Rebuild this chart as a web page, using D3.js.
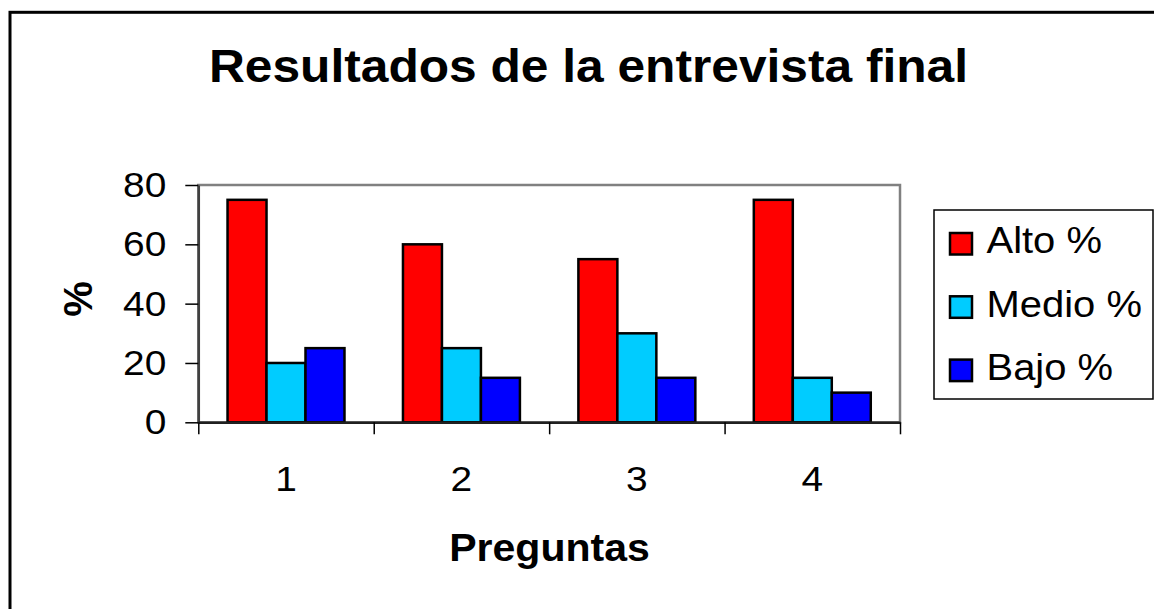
<!DOCTYPE html>
<html>
<head>
<meta charset="utf-8">
<script src="https://cdn.jsdelivr.net/npm/d3@7"></script>
<style>
  html, body { margin: 0; padding: 0; background: #fff; }
  svg { display: block; font-family: "Liberation Sans", Arial, sans-serif; }
</style>
</head>
<body>
<svg id="chart" width="1154" height="609"></svg>
<script>
// ---- data ----
const categories = ["1", "2", "3", "4"];
const seriesNames = ["Alto %", "Medio %", "Bajo %"];
const alto  = [75, 60, 55, 75];
const medio = [20, 25, 30, 15];
const bajo  = [25, 15, 15, 10];
const yTicks = [0, 20, 40, 60, 80];
const titleText = "Resultados de la entrevista final";
const xTitle = "Preguntas";
const yTitle = "%";
const colors = ["#FF0000", "#00CCFF", "#0000FF"];

const seriesValues = [alto, medio, bajo];
const SX = 1.08; // horizontal stretch of the original picture's text

const svg = d3.select("#chart");

// outer chart frame (extends beyond right/bottom edges)
svg.append("rect")
  .attr("x", 10).attr("y", 12.3)
  .attr("width", 1170).attr("height", 620)
  .attr("fill", "#fff").attr("stroke", "#000").attr("stroke-width", 3);

const plot = { left: 198.3, right: 900, top: 185, bottom: 422.3 };

const x = d3.scaleBand().domain(categories)
  .range([plot.left, plot.right]).paddingInner(1/3).paddingOuter(1/6);
const xs = d3.scaleBand().domain(d3.range(seriesNames.length))
  .range([0, x.bandwidth()]).padding(0);
const xEdges = d3.scaleLinear().domain([0, categories.length]).range([plot.left, plot.right]);
const y = d3.scaleLinear().domain([0, 80]).range([plot.bottom, plot.top]);

function stretchText(sel, sx) {
  sel.each(function() {
    const t = d3.select(this);
    const tx = +t.attr("x") || 0;
    const ty = +t.attr("y") || 0;
    t.attr("transform", `translate(${tx},${ty}) scale(${sx},1) translate(${-tx},${-ty})`);
  });
}

// plot area border (grey)
svg.append("rect")
  .attr("x", plot.left).attr("y", plot.top)
  .attr("width", plot.right - plot.left).attr("height", plot.bottom - plot.top)
  .attr("fill", "#fff").attr("stroke", "#808080").attr("stroke-width", 2.5);

// bars
const groups = svg.append("g").selectAll("g")
  .data(categories).join("g")
  .attr("transform", c => `translate(${x(c)},0)`);
groups.selectAll("rect")
  .data((c, i) => seriesValues.map((vals, s) => ({ s, v: vals[i] })))
  .join("rect")
  .attr("x", d => xs(d.s))
  .attr("y", d => y(d.v))
  .attr("width", xs.bandwidth())
  .attr("height", d => y(0) - y(d.v))
  .attr("fill", d => colors[d.s])
  .attr("stroke", "#000").attr("stroke-width", 2.5);

// y axis
const yAxis = svg.append("g")
  .attr("transform", `translate(${plot.left},0)`)
  .call(d3.axisLeft(y).tickValues(yTicks).tickSize(13).tickSizeOuter(0).tickPadding(19));
yAxis.select(".domain").attr("stroke", "#404040").attr("stroke-width", 2.5);
yAxis.selectAll(".tick line").attr("stroke", "#000").attr("stroke-width", 1.5);
yAxis.selectAll(".tick text")
  .attr("font-size", 36).attr("fill", "#000")
  .attr("font-family", "Liberation Sans, Arial, sans-serif")
  .call(stretchText, SX);

// x axis (ticks at category boundaries)
const xAxis = svg.append("g")
  .attr("transform", `translate(0,${plot.bottom})`)
  .call(d3.axisBottom(xEdges).tickValues(d3.range(categories.length + 1))
    .tickFormat("").tickSize(12).tickSizeOuter(0));
xAxis.select(".domain").attr("stroke", "#202020").attr("stroke-width", 2.5);
xAxis.selectAll(".tick line").attr("stroke", "#000").attr("stroke-width", 1.5);

// category labels
svg.append("g").selectAll("text")
  .data(categories).join("text")
  .attr("x", c => x(c) + x.bandwidth() / 2)
  .attr("y", 491)
  .attr("text-anchor", "middle")
  .attr("font-size", 36)
  .text(c => c)
  .call(stretchText, SX);

// title
svg.append("text")
  .attr("x", 588.5).attr("y", 82)
  .attr("text-anchor", "middle")
  .attr("font-size", 46).attr("font-weight", "bold")
  .text(titleText)
  .call(stretchText, SX);

// x axis title
svg.append("text")
  .attr("x", 549.5).attr("y", 561.5)
  .attr("text-anchor", "middle")
  .attr("font-size", 38).attr("font-weight", "bold")
  .text(xTitle)
  .call(stretchText, SX);

// y axis title
svg.append("text")
  .attr("transform", "translate(91.5,299) rotate(-90)")
  .attr("text-anchor", "middle")
  .attr("font-size", 40).attr("font-weight", "bold")
  .text(yTitle);

// legend
const legend = svg.append("g");
legend.append("rect")
  .attr("x", 934).attr("y", 210)
  .attr("width", 219).attr("height", 189)
  .attr("fill", "#fff").attr("stroke", "#000").attr("stroke-width", 1.5);
const items = legend.selectAll("g.item")
  .data(seriesNames).join("g").attr("class", "item");
items.append("rect")
  .attr("x", 950).attr("y", (d, i) => 233 + i * 63.3)
  .attr("width", 22).attr("height", 21.5)
  .attr("fill", (d, i) => colors[i])
  .attr("stroke", "#000").attr("stroke-width", 2.5);
items.append("text")
  .attr("x", 986.5).attr("y", (d, i) => 253.3 + i * 63.3)
  .attr("font-size", 37)
  .text(d => d)
  .call(stretchText, SX);
</script>
</body>
</html>
